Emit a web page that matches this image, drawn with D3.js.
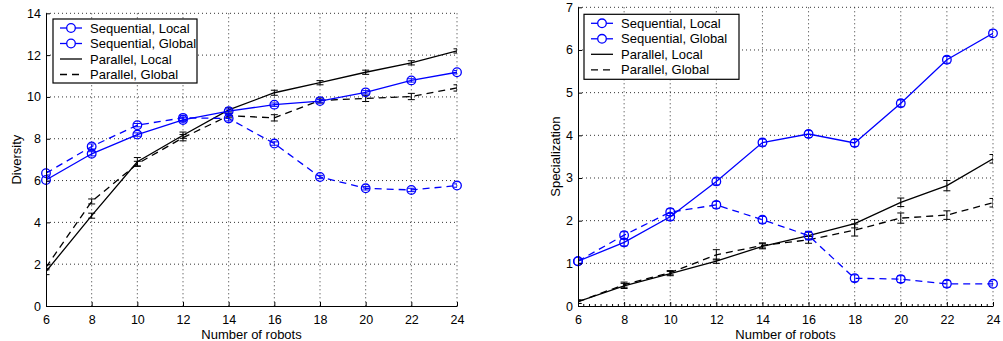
<!DOCTYPE html>
<meta charset="utf-8">
<head>
    <title>Diversity and specialization vs number of robots</title>
</head>
<script src="https://cdn.jsdelivr.net/npm/d3@7"></script>
<style>
  body { margin: 0; background: #fff; }
  text { font-family: "Liberation Sans", Arial, Helvetica, sans-serif; }
</style>
<body>
<div id="my_dataviz"></div>
<script>

// number of robots on the x axis
var robots = [6, 8, 10, 12, 14, 16, 18, 20, 22, 24];
var seriesNames = ["Sequential, Local", "Sequential, Global", "Parallel, Local", "Parallel, Global"];

// left panel: diversity (mean and error half-width)
var divSeqLocal  = [6.03, 7.28, 8.2, 8.9, 9.32, 9.63, 9.8, 10.22, 10.79, 11.18];
var divSeqGlobal = [6.35, 7.63, 8.65, 9.0, 8.97, 7.77, 6.17, 5.63, 5.55, 5.76];
var divParLocal  = [1.65, 4.32, 6.9, 8.17, 9.38, 10.2, 10.68, 11.18, 11.63, 12.2];
var divParGlobal = [1.85, 5.0, 6.8, 8.05, 9.1, 9.0, 9.83, 9.93, 10.02, 10.43];
var divSeqLocalErr  = [0.08, 0.1, 0.08, 0.1, 0.1, 0.08, 0.08, 0.08, 0.08, 0.08];
var divSeqGlobalErr = [0.08, 0.12, 0.08, 0.12, 0.12, 0.08, 0.08, 0.08, 0.08, 0.08];
var divParLocalErr  = [0.15, 0.12, 0.2, 0.15, 0.1, 0.12, 0.1, 0.1, 0.1, 0.1];
var divParGlobalErr = [0.12, 0.12, 0.12, 0.15, 0.1, 0.15, 0.12, 0.15, 0.15, 0.15];

// right panel: specialization
var spSeqLocal  = [1.05, 1.49, 2.09, 2.92, 3.83, 4.03, 3.82, 4.75, 5.77, 6.39];
var spSeqGlobal = [1.05, 1.66, 2.2, 2.37, 2.02, 1.65, 0.65, 0.63, 0.52, 0.52];
var spParLocal  = [0.1, 0.47, 0.76, 1.05, 1.4, 1.65, 1.93, 2.43, 2.82, 3.45];
var spParGlobal = [0.1, 0.5, 0.78, 1.2, 1.42, 1.55, 1.78, 2.06, 2.13, 2.42];
var spSeqLocalErr  = [0.05, 0.08, 0.08, 0.08, 0.08, 0.08, 0.08, 0.08, 0.08, 0.08];
var spSeqGlobalErr = [0.05, 0.08, 0.08, 0.08, 0.08, 0.1, 0.08, 0.08, 0.08, 0.05];
var spParLocalErr  = [0.04, 0.06, 0.05, 0.05, 0.06, 0.08, 0.1, 0.1, 0.12, 0.1];
var spParGlobalErr = [0.04, 0.06, 0.05, 0.12, 0.06, 0.08, 0.14, 0.12, 0.1, 0.1];

var xTicks = [6, 8, 10, 12, 14, 16, 18, 20, 22, 24];
var divTicks = [0, 2, 4, 6, 8, 10, 12, 14];
var spTicks = [0, 1, 2, 3, 4, 5, 6, 7];

var width = 1003,
    height = 341;

var svg = d3.select("#my_dataviz")
  .append("svg")
    .attr("width", width)
    .attr("height", height);

// line styles for the four series
var styles = [
  {color: "#0000ff", dash: null,  marker: true},
  {color: "#0000ff", dash: "7,5", marker: true},
  {color: "#000000", dash: null,  marker: false},
  {color: "#000000", dash: "7,5", marker: false}
];

function drawPanel(p) {
  var x = d3.scaleLinear().domain([6, 24]).range([p.left, p.right]);
  var y = d3.scaleLinear().domain(p.yDomain).range([306, p.top]);

  var g = svg.append("g");

  // clip for lines/error bars (markers stay unclipped)
  var clipId = "clip" + p.id;
  g.append("clipPath").attr("id", clipId)
    .append("rect")
      .attr("x", p.left).attr("y", p.top)
      .attr("width", p.right - p.left).attr("height", 306 - p.top);

  // dotted grid
  g.selectAll(".vgrid").data(xTicks.slice(1)).enter().append("line")
    .attr("x1", function(d) { return x(d); })
    .attr("x2", function(d) { return x(d); })
    .attr("y1", y(p.yDomain[1])).attr("y2", 306)
    .attr("stroke", "#333").attr("stroke-width", 1)
    .attr("stroke-dasharray", "1,3");
  g.selectAll(".hgrid").data(p.yTicks.slice(1)).enter().append("line")
    .attr("y1", function(d) { return y(d); })
    .attr("y2", function(d) { return y(d); })
    .attr("x1", p.left).attr("x2", p.right)
    .attr("stroke", "#333").attr("stroke-width", 1)
    .attr("stroke-dasharray", "1,3");

  // series
  var line = d3.line()
    .x(function(d) { return x(d.x); })
    .y(function(d) { return y(d.y); });

  var order = [3, 2, 1, 0];
  order.forEach(function(i) {
    var st = styles[i];
    var pts = robots.map(function(r, k) {
      return {x: r, y: p.values[i][k], e: p.errors[i][k]};
    });
    var sg = g.append("g");

    sg.append("path")
      .attr("d", line(pts))
      .attr("clip-path", "url(#" + clipId + ")")
      .attr("fill", "none")
      .attr("stroke", st.color)
      .attr("stroke-width", 1.3)
      .attr("stroke-dasharray", st.dash);

    // error bars
    sg.selectAll(".err").data(pts).enter().append("path")
      .attr("clip-path", "url(#" + clipId + ")")
      .attr("d", function(d) {
        var cx = x(d.x), y0 = y(d.y - d.e), y1 = y(d.y + d.e), c = 3.5;
        return "M" + cx + "," + y0 + "V" + y1 +
               "M" + (cx - c) + "," + y0 + "H" + (cx + c) +
               "M" + (cx - c) + "," + y1 + "H" + (cx + c);
      })
      .attr("fill", "none")
      .attr("stroke", st.color)
      .attr("stroke-width", 1);

    if (st.marker) {
      sg.selectAll(".mk").data(pts).enter().append("circle")
        .attr("cx", function(d) { return x(d.x); })
        .attr("cy", function(d) { return y(d.y); })
        .attr("r", 4.3)
        .attr("fill", "none")
        .attr("stroke", st.color)
        .attr("stroke-width", 1.3);
    }
  });

  // axes with inward ticks
  var xAxis = d3.axisBottom(x).tickValues(xTicks).tickSizeInner(-4).tickSizeOuter(0)
    .tickPadding(9).tickFormat(d3.format("d"));
  var yAxis = d3.axisLeft(y).tickValues(p.yTicks).tickSizeInner(-4).tickSizeOuter(0)
    .tickPadding(5).tickFormat(d3.format("d"));

  var gx = g.append("g").attr("transform", "translate(0,306)").call(xAxis);
  var gy = g.append("g").attr("transform", "translate(" + p.left + ",0)").call(yAxis);
  [gx, gy].forEach(function(a) {
    a.attr("font-size", 12.5).attr("font-family", "Liberation Sans, Arial, sans-serif");
    a.selectAll("text").attr("fill", "#000");
    a.selectAll("line, path").attr("stroke", "#000");
  });

  if (p.minorX) {
    var minor = d3.range(6, 24.001, 0.25).filter(function(v) { return v % 2 !== 0; });
    g.selectAll(".minor").data(minor).enter().append("line")
      .attr("x1", function(d) { return x(d); })
      .attr("x2", function(d) { return x(d); })
      .attr("y1", 306).attr("y2", 304)
      .attr("stroke", "#000").attr("stroke-width", 1);
  }

  // axis titles
  g.append("text")
    .attr("x", (p.left + p.right) / 2)
    .attr("y", 339)
    .attr("text-anchor", "middle")
    .style("font-size", "13px")
    .text("Number of robots");

  g.append("text")
    .attr("transform", "translate(" + p.yLabelX + "," + ((306 + p.top) / 2) + ") rotate(-90)")
    .attr("text-anchor", "middle")
    .style("font-size", "13px")
    .text(p.yLabel);

  // legend
  var lg = g.append("g").attr("transform", "translate(" + p.legend.x + "," + p.legend.y + ")");
  lg.append("rect")
    .attr("width", p.legend.w).attr("height", p.legend.h)
    .attr("fill", "#fff").attr("stroke", "#000").attr("stroke-width", 1.2);
  seriesNames.forEach(function(name, i) {
    var ly = 9 + i * 15.5;
    var st = styles[i];
    lg.append("line")
      .attr("x1", 7).attr("x2", 29).attr("y1", ly).attr("y2", ly)
      .attr("stroke", st.color).attr("stroke-width", 1.3)
      .attr("stroke-dasharray", i === 3 ? "7,5" : null);
    if (st.marker) {
      lg.append("circle").attr("cx", 18).attr("cy", ly).attr("r", 4.3)
        .attr("fill", "#fff").attr("stroke", st.color).attr("stroke-width", 1.3);
    }
    lg.append("text")
      .attr("x", 37).attr("y", ly).attr("dy", "0.35em")
      .style("font-size", "13px")
      .text(name);
  });
}

drawPanel({
  id: "a", left: 46, right: 457, top: 13.3,
  yDomain: [0, 14], yTicks: divTicks, yLabel: "Diversity", yLabelX: 21,
  values: [divSeqLocal, divSeqGlobal, divParLocal, divParGlobal],
  errors: [divSeqLocalErr, divSeqGlobalErr, divParLocalErr, divParGlobalErr],
  minorX: false,
  legend: {x: 53, y: 19, w: 144, h: 64}
});

drawPanel({
  id: "b", left: 578, right: 993, top: 7.3,
  yDomain: [0, 7], yTicks: spTicks, yLabel: "Specialization", yLabelX: 560,
  values: [spSeqLocal, spSeqGlobal, spParLocal, spParGlobal],
  errors: [spSeqLocalErr, spSeqGlobalErr, spParLocalErr, spParGlobalErr],
  minorX: true,
  legend: {x: 584, y: 14.3, w: 155, h: 65}
});

</script>
</body>
